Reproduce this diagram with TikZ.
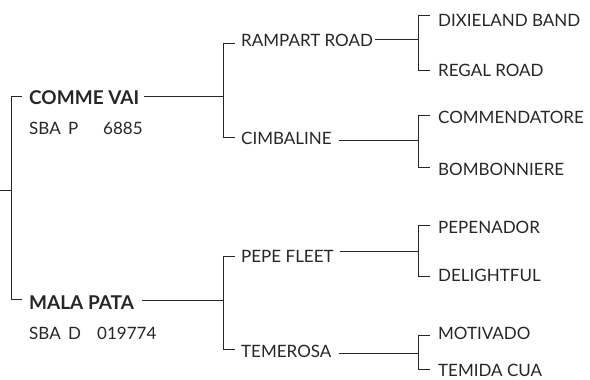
\documentclass[tikz,border=0pt]{standalone}
\usepackage{fontspec}
\setmainfont{Lato}
\definecolor{ink}{HTML}{262626}
\tikzset{
  lbl/.style={anchor=base west, inner sep=0pt, text=ink, font=\fontsize{17}{20}\selectfont},
  main/.style={lbl, font=\fontsize{19}{22}\selectfont\bfseries},
  ln/.style={draw=ink, line width=0.9pt}
}
\begin{document}
\begin{tikzpicture}[x=1pt,y=-1pt]
\useasboundingbox (0,0) rectangle (590,380);
% root
\coordinate (r0) at (0,190);
\coordinate (rv) at (11,190);
\coordinate (rt) at (11,96);
\coordinate (rb) at (11,299);
\coordinate (rtt) at (22,96);
\coordinate (rbt) at (22,299);
% generation 1
\node[main] (cv) at (29,104) {COMME VAI};
\node[lbl] (cvr) at (29,134) {\makebox[39pt][l]{SBA}\makebox[35pt][l]{P}6885};
\node[main] (mp) at (29,309) {MALA PATA};
\node[lbl] (mpr) at (29,339) {\makebox[39pt][l]{SBA}\makebox[29pt][l]{D}019774};
\coordinate (cvm) at (223,96);
\coordinate (mpm) at (223,300);
% bracket 2
\coordinate (a1) at (223,43);  \coordinate (a1t) at (235,43);
\coordinate (a2) at (223,137); \coordinate (a2t) at (235,137);
\coordinate (b1) at (223,256); \coordinate (b1t) at (235,256);
\coordinate (b2) at (223,349); \coordinate (b2t) at (235,349);
% generation 2
\node[lbl] (rr) at (241,46) {RAMPART ROAD};
\node[lbl] (ci) at (241,144) {CIMBALINE};
\node[lbl] (pf) at (241,262) {PEPE FLEET};
\node[lbl] (te) at (241,357) {TEMEROSA};
\coordinate (rrm) at (418,39);
\coordinate (cim) at (418,140);
\coordinate (pfm) at (418,251);
\coordinate (tem) at (418,353);
% bracket 3
\coordinate (c1) at (418,15);  \coordinate (c1t) at (430,15);
\coordinate (c2) at (418,70);  \coordinate (c2t) at (430,70);
\coordinate (d1) at (418,115); \coordinate (d1t) at (430,115);
\coordinate (d2) at (418,167); \coordinate (d2t) at (430,167);
\coordinate (e1) at (418,225); \coordinate (e1t) at (430,225);
\coordinate (e2) at (418,276); \coordinate (e2t) at (430,276);
\coordinate (f1) at (418,335); \coordinate (f1t) at (430,335);
\coordinate (f2) at (418,369); \coordinate (f2t) at (430,369);
% generation 3
\node[lbl] (db) at (438,27) {DIXIELAND BAND};
\node[lbl] (rg) at (438,76) {REGAL ROAD};
\node[lbl] (cm) at (438,123) {COMMENDATORE};
\node[lbl] (bo) at (438,175) {BOMBONNIERE};
\node[lbl] (pp) at (438,233) {PEPENADOR};
\node[lbl] (dl) at (438,281) {DELIGHTFUL};
\node[lbl] (mo) at (438,339) {MOTIVADO};
\node[lbl] (tc) at (438,376) {TEMIDA CUA};
% connectors
\draw[ln] (r0) -- (rv);
\draw[ln] (rtt) -- (rt) -- (rb) -- (rbt);
\draw[ln] (cv.east |- cvm) ++(5,0) -- (cvm);
\draw[ln] (mp.east |- mpm) ++(8,0) -- (mpm);
\draw[ln] (a1t) -- (a1) -- (a2) -- (a2t);
\draw[ln] (b1t) -- (b1) -- (b2) -- (b2t);
\draw[ln] (rr.east |- rrm) ++(2,0) -- (rrm);
\draw[ln] (ci.east |- cim) ++(7,0) -- (cim);
\draw[ln] (pf.east |- pfm) ++(6,0) -- (pfm);
\draw[ln] (te.east |- tem) ++(7,0) -- (tem);
\draw[ln] (c1t) -- (c1) -- (c2) -- (c2t);
\draw[ln] (d1t) -- (d1) -- (d2) -- (d2t);
\draw[ln] (e1t) -- (e1) -- (e2) -- (e2t);
\draw[ln] (f1t) -- (f1) -- (f2) -- (f2t);
\end{tikzpicture}
\end{document}
